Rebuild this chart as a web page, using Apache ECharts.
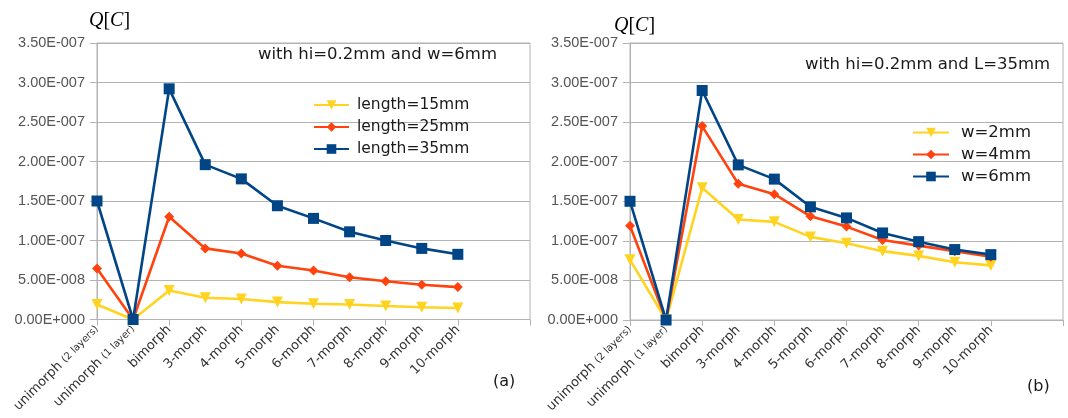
<!DOCTYPE html>
<html><head><meta charset="utf-8">
<script src="https://cdn.jsdelivr.net/npm/echarts@6/dist/echarts.min.js"></script>
<style>html,body{margin:0;padding:0;background:#fff}#c{width:1068px;height:418px}</style>
</head><body><div id="c"></div>
<script>
const categories = ['unimorph (2 layers)','unimorph (1 layer)','bimorph','3-morph','4-morph','5-morph','6-morph','7-morph','8-morph','9-morph','10-morph'];
const yTicks = {min: 0, max: 3.5e-7, interval: 5e-8};

const namesA = ['length=15mm','length=25mm','length=35mm'];
const len15 = [1.9e-8, 0, 3.67e-8, 2.75e-8, 2.6e-8, 2.2e-8, 2.0e-8, 1.9e-8, 1.7e-8, 1.55e-8, 1.45e-8];
const len25 = [6.45e-8, 0, 1.30e-7, 9.0e-8, 8.35e-8, 6.8e-8, 6.2e-8, 5.35e-8, 4.85e-8, 4.4e-8, 4.1e-8];
const len35 = [1.50e-7, 0, 2.92e-7, 1.96e-7, 1.78e-7, 1.44e-7, 1.28e-7, 1.11e-7, 1.00e-7, 0.90e-7, 0.825e-7];

const namesB = ['w=2mm','w=4mm','w=6mm'];
const w2 = [7.6e-8, 0, 1.67e-7, 1.27e-7, 1.24e-7, 1.05e-7, 0.97e-7, 0.87e-7, 0.81e-7, 0.73e-7, 0.69e-7];
const w4 = [1.19e-7, 0, 2.45e-7, 1.72e-7, 1.59e-7, 1.31e-7, 1.18e-7, 1.01e-7, 0.94e-7, 0.87e-7, 0.80e-7];
const w6 = [1.50e-7, 0, 2.90e-7, 1.96e-7, 1.78e-7, 1.43e-7, 1.29e-7, 1.10e-7, 0.99e-7, 0.89e-7, 0.826e-7];

const noteA = 'with hi=0.2mm and w=6mm';
const noteB = 'with hi=0.2mm and L=35mm';

const colors = ['#ffd320', '#ff420e', '#004586'];
const symbols = [['triangle', 180, 11], ['diamond', 0, 10], ['rect', 0, 11]];

function fmtY(v) {
  if (Math.abs(v) < 1e-20) return '0.00E+000';
  const s = v.toExponential(2).split('e');
  const n = parseInt(s[1], 10);
  return s[0] + 'E' + (n < 0 ? '-' : '+') + String(Math.abs(n)).padStart(3, '0');
}
function fmtX(v) {
  if (!v) return '';
  const m = v.match(/^(.*?)\s*\((.*)\)$/);
  if (m) return '{m|' + m[1] + ' }{s|(' + m[2] + ')}';
  return '{m|' + v + '}';
}
const axisCats = categories.concat(['', '']);
const gridColor = '#b3b3b3';

function xAxis(i) {
  return {
    type: 'category', gridIndex: i, data: axisCats, boundaryGap: false,
    axisLine: {lineStyle: {color: gridColor}},
    axisTick: {show: true, interval: 1, length: 6, lineStyle: {color: gridColor}},
    splitLine: {show: false},
    axisLabel: {
      interval: 0, rotate: 45, margin: 8, formatter: fmtX,
      rich: {
        m: {fontFamily: 'DejaVu Sans', fontSize: 13, color: '#333'},
        s: {fontFamily: 'DejaVu Sans', fontSize: 10, color: '#333'}
      }
    }
  };
}
function yAxis(i) {
  return {
    type: 'value', gridIndex: i, min: yTicks.min, max: yTicks.max, interval: yTicks.interval,
    axisLine: {show: true, lineStyle: {color: gridColor}},
    axisTick: {show: true, length: 7, lineStyle: {color: gridColor}},
    splitLine: {show: true, lineStyle: {color: gridColor, width: 1}},
    axisLabel: {formatter: fmtY, margin: 12, fontFamily: 'Liberation Sans', fontSize: 14.5, color: '#555'}
  };
}
function series(names, arrs, gi) {
  return arrs.map((d, k) => ({
    name: names[k], type: 'line', xAxisIndex: gi, yAxisIndex: gi, data: d,
    symbol: symbols[k][0], symbolRotate: symbols[k][1], symbolSize: symbols[k][2],
    showAllSymbol: true,
    lineStyle: {color: colors[k], width: 2.6},
    itemStyle: {color: colors[k]},
    emphasis: {disabled: true}, animation: false
  }));
}

const chart = echarts.init(document.getElementById('c'), null, {renderer: 'canvas'});
chart.setOption({
  animation: false,
  grid: [
    {left: 97, top: 43, width: 433, height: 276.5, show: true, borderColor: gridColor, borderWidth: 1},
    {left: 630, top: 43, width: 433, height: 277, show: true, borderColor: gridColor, borderWidth: 1}
  ],
  xAxis: [xAxis(0), xAxis(1)],
  yAxis: [yAxis(0), yAxis(1)],
  legend: [
    {data: namesA, orient: 'vertical', left: 308, top: 92, itemWidth: 35, itemHeight: 12, itemGap: 6,
     textStyle: {fontFamily: 'DejaVu Sans', fontSize: 15.5, color: '#1a1a1a', padding: [0, 0, 0, 3]}, selectedMode: false},
    {data: namesB, orient: 'vertical', left: 907, top: 119, itemWidth: 36, itemHeight: 12, itemGap: 5,
     textStyle: {fontFamily: 'DejaVu Sans', fontSize: 16.5, color: '#1a1a1a', padding: [0, 0, 0, 7]}, selectedMode: false}
  ],
  series: series(namesA, [len15, len25, len35], 0).concat(series(namesB, [w2, w4, w6], 1)),
  graphic: [
    {type: 'text', x: 258, y: 55, style: {text: noteA, font: '16.5px "DejaVu Sans"', fill: '#1a1a1a', textAlign: 'left', textVerticalAlign: 'middle'}},
    {type: 'text', x: 805, y: 65, style: {text: noteB, font: '16.5px "DejaVu Sans"', fill: '#1a1a1a', textAlign: 'left', textVerticalAlign: 'middle'}},
    {type: 'text', x: 493, y: 382, style: {text: '(a)', font: '16px "DejaVu Sans"', fill: '#1a1a1a', textAlign: 'left', textVerticalAlign: 'middle'}},
    {type: 'text', x: 1027, y: 387, style: {text: '(b)', font: '16px "DejaVu Sans"', fill: '#1a1a1a', textAlign: 'left', textVerticalAlign: 'middle'}},
    {type: 'text', x: 89, y: 21, style: {text: '{i|Q}{n|[}{i|C}{n|]}', textAlign: 'left', textVerticalAlign: 'middle',
      rich: {i: {fontFamily: 'Liberation Serif', fontStyle: 'italic', fontSize: 20, color: '#1a1a1a'}, n: {fontFamily: 'Liberation Serif', fontSize: 20, color: '#1a1a1a'}}}},
    {type: 'text', x: 614, y: 26, style: {text: '{i|Q}{n|[}{i|C}{n|]}', textAlign: 'left', textVerticalAlign: 'middle',
      rich: {i: {fontFamily: 'Liberation Serif', fontStyle: 'italic', fontSize: 20, color: '#1a1a1a'}, n: {fontFamily: 'Liberation Serif', fontSize: 20, color: '#1a1a1a'}}}}
  ]
});
</script></body></html>
